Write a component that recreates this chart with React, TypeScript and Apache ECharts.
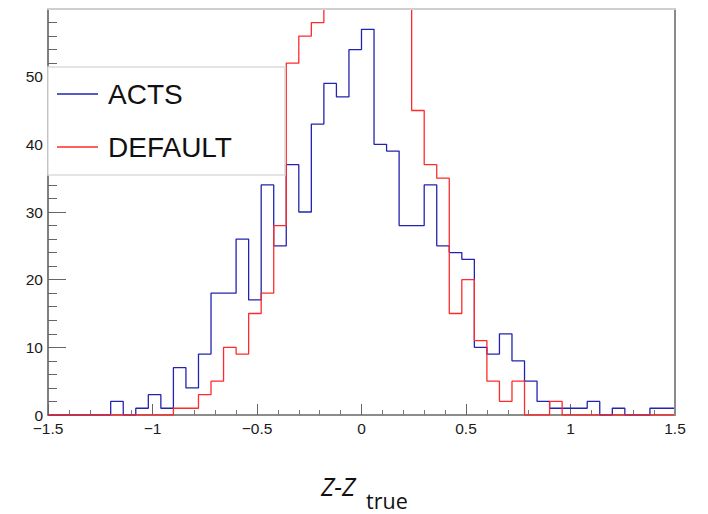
import React, { useEffect, useRef } from "react";
import * as echarts from "echarts";

// Histogram binning
const BIN_MIN = -1.5;
const BIN_WIDTH = 0.06;

// Bin contents (50 bins from -1.5 to 1.5)
const actsCounts = [
  0, 0, 0, 0, 0, 2, 0, 1, 3, 1,
  7, 4, 9, 18, 18, 26, 17, 34, 25, 37,
  30, 43, 49, 47, 54, 57, 40, 39, 28, 28,
  34, 25, 24, 23, 10, 9, 12, 8, 5, 2,
  1, 1, 1, 2, 0, 1, 0, 0, 1, 1,
];
// bins 22-28 run above the frame (clipped in the reference); estimated
const defaultCounts = [
  0, 0, 0, 0, 0, 0, 0, 0, 0, 0,
  1, 1, 3, 5, 10, 9, 15, 18, 28, 52,
  56, 58, 66, 74, 79, 81, 76, 70, 63, 45,
  37, 35, 15, 20, 11, 5, 2, 5, 0, 0,
  2, 0, 0, 0, 0, 0, 0, 0, 0, 0,
];

const seriesNames = ["ACTS", "DEFAULT"];
const xTicks = { min: -1.5, max: 1.5, interval: 0.5 };
const yTicks = { min: 0, max: 60, interval: 10 };

function toSteps(values: number[]) {
  const pts: number[][] = values.map((v, i) => [
    +(BIN_MIN + i * BIN_WIDTH).toFixed(4),
    v,
  ]);
  pts.push([
    +(BIN_MIN + values.length * BIN_WIDTH).toFixed(4),
    values[values.length - 1],
  ]);
  return pts;
}

export default function App() {
  const ref = useRef<HTMLDivElement>(null);

  useEffect(() => {
    if (!ref.current) return;
    const chart = echarts.init(ref.current, null, { renderer: "svg" });
    const font = "'Liberation Sans', Arial, Helvetica, sans-serif";
    chart.setOption({
      animation: false,
      backgroundColor: "#ffffff",
      grid: { left: 48, right: 33, top: 9, bottom: 99, containLabel: false },
      legend: {
        orient: "vertical",
        left: 48,
        top: 67,
        padding: [12, 53, 13, 9],
        itemGap: 23,
        itemWidth: 41,
        itemHeight: 1.5,
        icon: "rect",
        backgroundColor: "#ffffff",
        borderColor: "#dcdcdc",
        borderWidth: 1.5,
        borderRadius: 0,
        data: seriesNames,
        textStyle: {
          fontFamily: font,
          fontSize: 28,
          color: "#111",
          lineHeight: 30,
          padding: [0, 0, 0, 5],
        },
      },
      xAxis: [
        {
          type: "value",
          min: xTicks.min,
          max: xTicks.max,
          interval: xTicks.interval,
          splitLine: { show: false },
          axisLine: { show: true, onZero: false, lineStyle: { color: "#666", width: 1.5 } },
          axisTick: { show: true, inside: true, length: 11, lineStyle: { color: "#666", width: 1 } },
          minorTick: { show: true, splitNumber: 5, length: 5, lineStyle: { color: "#777", width: 1 } },
          axisLabel: {
            fontFamily: font,
            fontSize: 15.5,
            color: "#1a1a1a",
            margin: 5,
            formatter: (v: number) =>
              v < 0 ? "\u2212" + String(Math.abs(v)) : String(v),
          },
        },
        {
          type: "value",
          position: "top",
          min: xTicks.min,
          max: xTicks.max,
          z: 5,
          splitLine: { show: false },
          axisLine: { show: true, onZero: false, lineStyle: { color: "#cfcfcf", width: 2 } },
          axisTick: { show: false },
          axisLabel: { show: false },
        },
      ],
      yAxis: [
        {
          type: "value",
          min: yTicks.min,
          max: yTicks.max,
          interval: yTicks.interval,
          splitLine: { show: false },
          axisLine: { show: true, onZero: false, lineStyle: { color: "#555", width: 1.5 } },
          axisTick: { show: true, inside: true, length: 18, lineStyle: { color: "#666", width: 1 } },
          minorTick: { show: true, splitNumber: 5, length: 9, lineStyle: { color: "#666", width: 1 } },
          axisLabel: {
            fontFamily: font,
            fontSize: 15.5,
            color: "#1a1a1a",
            margin: 5,
            formatter: (v: number) => (v >= yTicks.max ? "" : String(v)),
          },
        },
        {
          type: "value",
          position: "right",
          min: yTicks.min,
          max: yTicks.max,
          z: 5,
          splitLine: { show: false },
          axisLine: { show: true, onZero: false, lineStyle: { color: "#8a8a8a", width: 2 } },
          axisTick: { show: false },
          axisLabel: { show: false },
        },
      ],
      series: [
        {
          name: seriesNames[0],
          type: "line",
          step: "end",
          clip: true,
          showSymbol: false,
          symbol: "none",
          color: "#2323b0",
          lineStyle: { color: "#2323b0", width: 1.3 },
          data: toSteps(actsCounts),
          z: 2,
        },
        {
          name: seriesNames[1],
          type: "line",
          step: "end",
          clip: true,
          showSymbol: false,
          symbol: "none",
          color: "#ff2a2a",
          lineStyle: { color: "#ff2a2a", width: 1.3 },
          data: toSteps(defaultCounts),
          z: 3,
        },
      ],
      graphic: [
        {
          type: "text",
          left: 321,
          top: 473,
          style: {
            text: "Z-Z",
            fontFamily: "'Open Sans', 'Noto Sans', sans-serif",
            fontStyle: "italic",
            fontSize: 25,
            lineHeight: 26,
            fill: "#111",
          },
        },
        {
          type: "text",
          left: 366,
          top: 489,
          style: {
            text: "true",
            fontFamily: "'Open Sans', 'Noto Sans', sans-serif",
            fontSize: 21.5,
            lineHeight: 20,
            fill: "#111",
          },
        },
      ],
    });
    return () => chart.dispose();
  }, []);

  return <div ref={ref} style={{ width: 708, height: 514, position: "absolute", left: 0, top: 0 }} />;
}
